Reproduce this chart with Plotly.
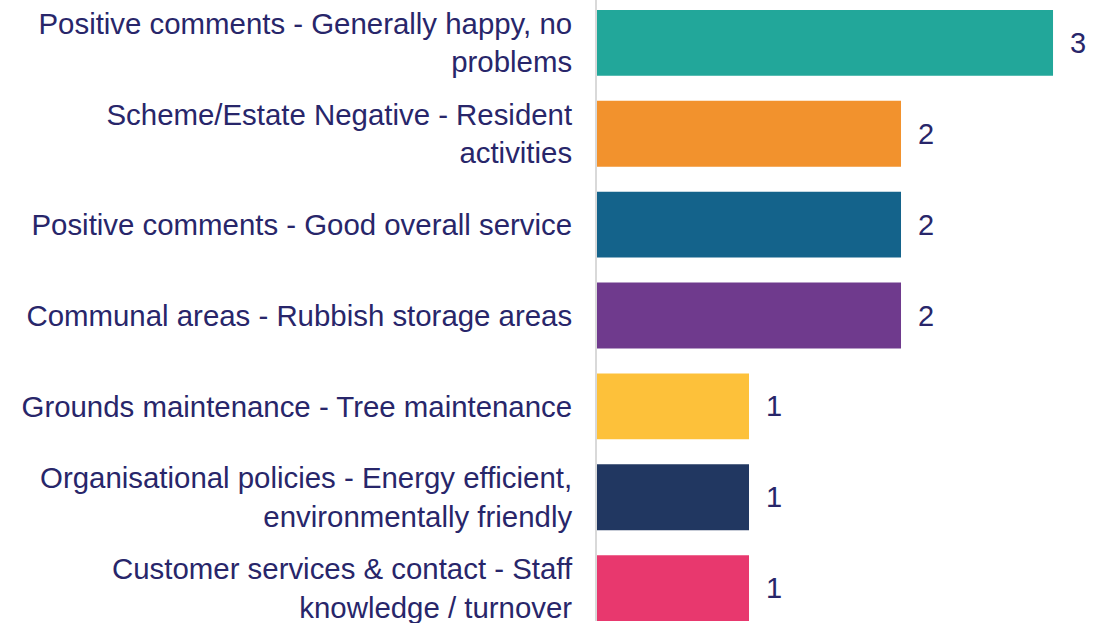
import plotly.graph_objects as go

categories = [
    "Positive comments - Generally happy, no<br>problems",
    "Scheme/Estate Negative - Resident<br>activities",
    "Positive comments - Good overall service",
    "Communal areas - Rubbish storage areas",
    "Grounds maintenance - Tree maintenance",
    "Organisational policies - Energy efficient,<br>environmentally friendly",
    "Customer services & contact - Staff<br>knowledge / turnover",
]
values = [3, 2, 2, 2, 1, 1, 1]
colors = ["#22A79A", "#F2922D", "#14638B", "#6F3A8D", "#FDC13A", "#213761", "#E8386E"]

text_color = "#28266A"
font_family = "Liberation Sans, Arial, sans-serif"

fig = go.Figure(
    go.Bar(
        y=categories,
        x=values,
        orientation="h",
        marker=dict(color=colors, line=dict(width=0)),
        hoverinfo="skip",
    )
)

for c, v in zip(categories, values):
    fig.add_annotation(
        x=v, y=c, text=str(v), showarrow=False,
        xanchor="left", yanchor="middle", xshift=15,
        font=dict(size=29, color=text_color, family=font_family),
    )

fig.update_layout(
    width=1112, height=623,
    margin=dict(l=597, r=0, t=0, b=0),
    paper_bgcolor="white", plot_bgcolor="white",
    bargap=0.276,
    showlegend=False,
    font=dict(family=font_family, size=29.4, color=text_color),
)
fig.update_xaxes(range=[0, 3.388], visible=False, showgrid=False, zeroline=False)
fig.update_yaxes(
    range=[6.3617, -0.4717],
    showline=True, linecolor="#D9D9D9", linewidth=2,
    showgrid=False, zeroline=False, ticks="",
    ticklabelstandoff=17,
    tickfont=dict(size=29.4, color=text_color, family=font_family),
)

fig.write_html("out.html")
